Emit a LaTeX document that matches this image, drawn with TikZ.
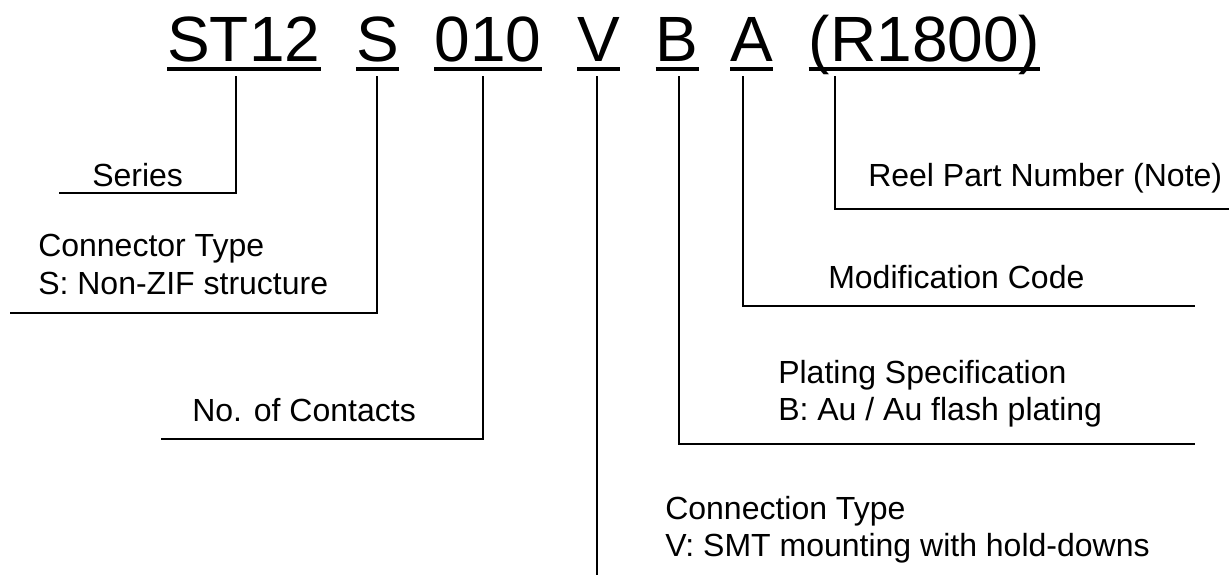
\documentclass[tikz,border=0pt]{standalone}
\usepackage{fontspec}
\setmainfont{Liberation Sans}
\usetikzlibrary{positioning}

% two lines, baseline on the first one
\newcommand{\twolines}[2]{\vtop{\hbox{#1}\hbox{#2}}}

\begin{document}
\begin{tikzpicture}[x=0.75pt, y=-0.75pt,
    code/.style={inner sep=0pt, font=\fontsize{48pt}{58pt}\selectfont},
    note/.style={anchor=base west, inner sep=0pt, font=\fontsize{24pt}{28pt}\selectfont},
    uline/.style={line width=2.6pt},
    leader/.style={line width=1.5pt}
]
    \useasboundingbox (0,0) rectangle (1229,575);

    % part number fields
    \node[code, anchor=base west] (series) at (167,61) {ST12};
    \node[code, base right=26.5pt of series] (ctype) {S};
    \node[code, base right=26.5pt of ctype] (contacts) {010};
    \node[code, base right=26.5pt of contacts] (conn) {V};
    \node[code, base right=26.5pt of conn] (plating) {B};
    \node[code, base right=23.5pt of plating] (modif) {A};
    \node[code, base right=26.5pt of modif] (reel) {(R1800)};

    \foreach \f in {series,ctype,contacts,conn,plating,modif,reel}
        \draw[uline] ([yshift=-6pt]\f.base west) -- ([yshift=-6pt]\f.base east);

    % descriptions
    \node[note] (series-lbl) at (92,186) {Series};
    \node[note] (ctype-lbl) at (38,256.7) {\twolines{Connector Type}{S: Non-ZIF structure}};
    \node[note] (contacts-lbl) at (192,421.7) {No. of Contacts};
    \node[note] (conn-lbl) at (665,519) {\twolines{Connection Type}{V: SMT mounting with hold-downs}};
    \node[note] (plating-lbl) at (778,383.3) {\twolines{Plating Specification}{B: Au / Au flash plating}};
    \node[note] (modif-lbl) at (828,288.3) {Modification Code};
    \node[note] (reel-lbl) at (868,186.7) {Reel Part Number (Note)};

    % leader lines
    \coordinate (series-top) at (236,76);
    \coordinate (series-end) at (59,193);
    \coordinate (ctype-top) at (377,76);
    \coordinate (ctype-end) at (10,313);
    \coordinate (contacts-top) at (483,76);
    \coordinate (contacts-end) at (160.7,439.3);
    \coordinate (conn-top) at (597,76);
    \coordinate (conn-end) at (597,575);
    \coordinate (plating-top) at (678.5,76);
    \coordinate (plating-end) at (1195,444.3);
    \coordinate (modif-top) at (743,76);
    \coordinate (modif-end) at (1195,305.7);
    \coordinate (reel-top) at (834.5,76);
    \coordinate (reel-end) at (1229,209.3);

    \draw[leader] (series-top) |- (series-end);
    \draw[leader] (ctype-top) |- (ctype-end);
    \draw[leader] (contacts-top) |- (contacts-end);
    \draw[leader] (conn-top) -- (conn-end);
    \draw[leader] (plating-top) |- (plating-end);
    \draw[leader] (modif-top) |- (modif-end);
    \draw[leader] (reel-top) |- (reel-end);
\end{tikzpicture}
\end{document}
